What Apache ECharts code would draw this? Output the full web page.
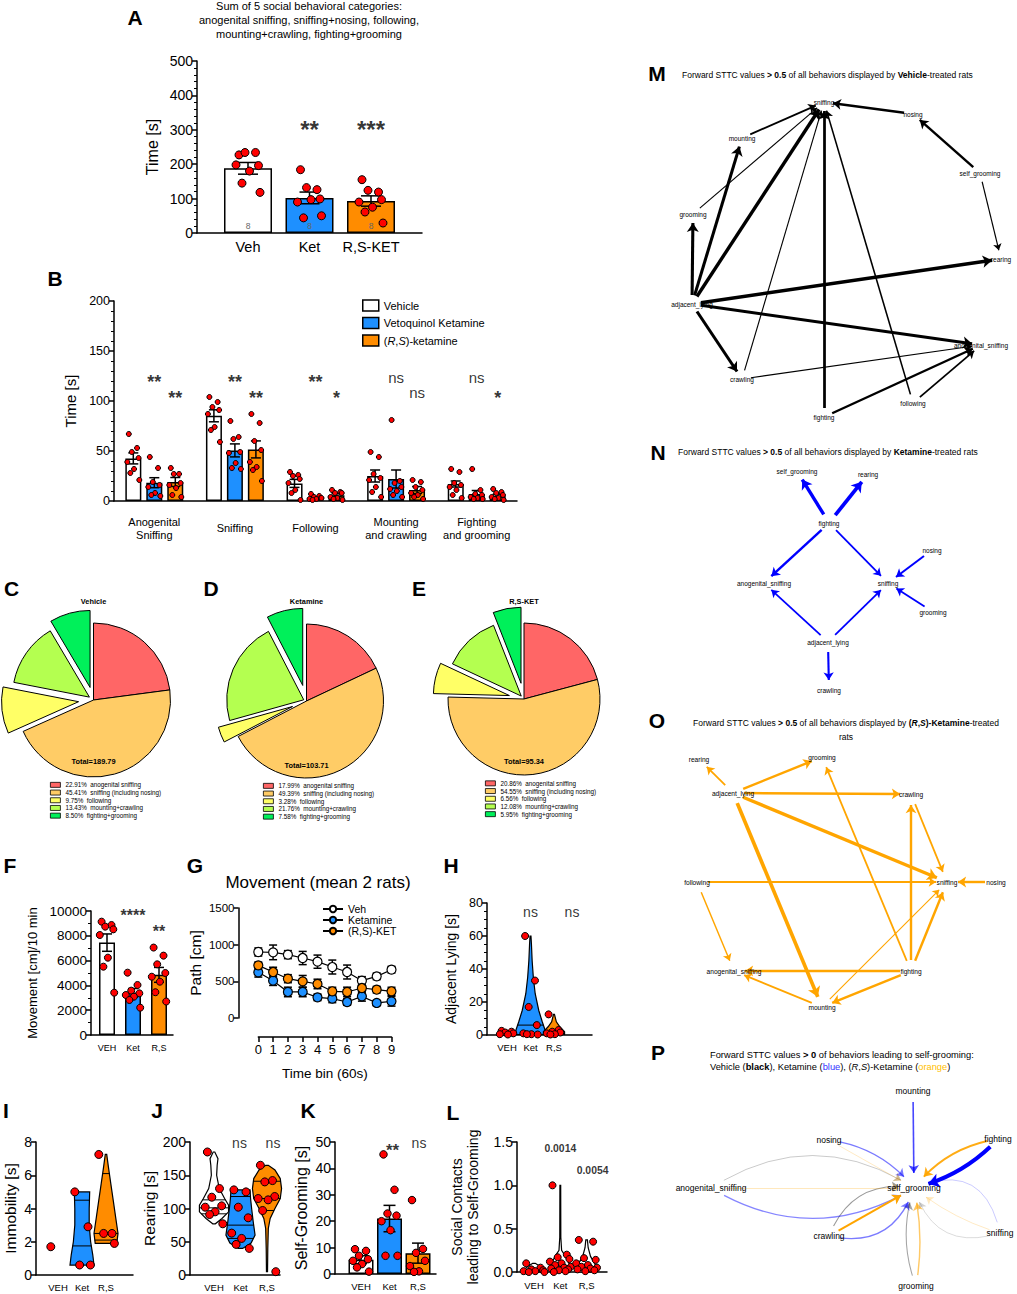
<!DOCTYPE html>
<html><head><meta charset="utf-8"><title>Figure</title>
<script src="https://cdn.jsdelivr.net/npm/echarts@6.0.0/dist/echarts.min.js"></script>
<style>html,body{margin:0;padding:0;background:#fff}#chart{width:1017px;height:1294px}</style>
</head><body><div id="chart"></div>
<script>
// ======================= DATA =======================
// A
const A_CATS = ['Veh','Ket','R,S-KET'];
const A_Y = [0, 500, 100];
const A_MEAN = [188, 102, 93];
const A_SEM = [17, 17, 15];
const A_PTS_VEH = [227,234,234,196,198,180,145,118];
const A_PTS_KET = [184,126,132,99,90,97,44,50];
const A_PTS_RS = [155,119,124,97,90,75,61,29];
const A_N = [8,8,8];
const A_SIG = ['','**','***'];
// B
const B_CATS = ['Anogenital\nSniffing','Sniffing','Following','Mounting\nand crawling','Fighting\nand grooming'];
const B_GROUPS = ['Vehicle','Vetoquinol Ketamine','(R,S)-ketamine'];
const B_Y = [0, 200, 50];
const B_MEAN_VEH = [42.6, 85.2, 17.6, 25, 17];
const B_MEAN_KET = [18.3, 50.6, 3.3, 22, 7];
const B_MEAN_RS = [19, 51.6, 5.7, 11, 5.3];
const B_SEM_VEH = [5.5, 6, 4, 6, 3];
const B_SEM_KET = [5, 6.5, 1, 9, 3.5];
const B_SEM_RS = [4.5, 8.5, 1.5, 3.5, 1.5];
const B_PTS_VEH = [[67,53,49,43,39,32,28,21],[104,99,94,91,87,74,71,59],[29,26,25,22,18,11,8,1],[49,44,27,23,21,14,9,4],[32,29,18,16,14,11,6,3]];
const B_PTS_KET = [[44,33,19,16,14,8,6,5],[80,64,62,49,48,38,33,32],[7,5,4,3,2,2,1,3],[81,20,18,14,12,10,6,4],[32,11,7,6,4,3,2,2]];
const B_PTS_RS = [[33,27,27,18,16,13,6,4],[87,78,60,51,39,34,31,20],[11,9,8,8,4,3,2,1],[21,19,14,11,8,6,4,2],[12,9,8,6,4,3,2,1]];
const B_SIG_KET = ['**','**','**','ns','ns'];
const B_SIG_RS = ['**','**','*','ns','*'];
// C, D, E
const PIE_CATS = ['anogenital sniffing','sniffing (including nosing)','following','mounting+crawling','fighting+grooming'];
const PIE_VEH = [22.91, 45.41, 9.75, 13.43, 8.50];
const PIE_KET = [17.99, 49.39, 3.28, 21.76, 7.58];
const PIE_RS = [20.86, 54.55, 6.56, 12.08, 5.95];
const PIE_TITLES = ['Vehicle','Ketamine','R,S-KET'];
const PIE_TOTALS = ['189.79','103.71','95.34'];
// F
const F_CATS = ['VEH','Ket','R,S'];
const F_Y = [0, 10000, 2000];
const F_MEAN = [7450, 3400, 4850];
const F_SEM = [700, 350, 600];
const F_PTS = [[9140,8870,8740,8520,8065,6236,5510,3414],[5027,4032,3575,3360,3226,3091,2822,2204],[7050,6400,5700,5000,4700,4300,3450,2700]];
const F_SIG = ['','****','**'];
// G
const G_BINS = [0,1,2,3,4,5,6,7,8,9];
const G_Y = [0, 1500, 500];
const G_VEH = [900,895,864,818,768,695,627,509,568,659];
const G_VEH_ERR = [55,100,55,90,90,95,95,55,45,45];
const G_KET = [623,509,355,355,282,264,218,295,205,227];
const G_KET_ERR = [65,65,65,65,45,55,45,65,35,65];
const G_RS = [718,627,536,500,464,364,355,409,386,364];
const G_RS_ERR = [45,65,55,80,65,55,65,65,45,55];
const G_NAMES = ['Veh','Ketamine','(R,S)-KET'];
// H
const H_CATS = ['VEH','Ket','R,S'];
const H_Y = [0, 80, 20];
const H_PTS = [[2.5,2,1.5,1,0.5,0.3],[60,33,17,6,1,0.5,0.5,0.3],[12.5,3,2,1.5,1,0.5,0.3]];
const H_DENS = [
  [[0.3,0.15],[1,0.3],[2,0.25],[2.5,0.08]],
  [[0.3,0.6],[3,0.62],[8,0.5],[15,0.35],[25,0.2],[35,0.12],[45,0.07],[55,0.04],[60,0.02]],
  [[0.3,0.45],[2,0.45],[5,0.25],[8,0.1],[12.5,0.02]]];
const H_QUART = [[1],[6],[1.2]];
const H_SIG = ['','ns','ns'];
// I
const I_CATS = ['VEH','Ket','R,S'];
const I_Y = [0, 8, 2];
const I_PTS = [[1.7],[5,2.9,0.6,0.6],[7.25,2.5,2.5,1.9]];
const I_DENS = [null,
  [[0.6,0.5],[1.2,0.45],[2,0.36],[3,0.3],[4,0.3],[5,0.32]],
  [[1.9,0.45],[2.5,0.5],[3.5,0.4],[4.5,0.3],[5.5,0.2],[6.5,0.1],[7.25,0.03]]];
const I_QUART = [[],[1.75,4.5],[2.1,2.5,6.1]];
// J
const J_CATS = ['VEH','Ket','R,S'];
const J_Y = [0, 200, 50];
const J_PTS = [[185,130,117,104,102,95,91,77],[128,125,102,86,63,55,46,40],[165,142,140,118,115,113,97,5]];
const J_DENS = [
  [[77,0.05],[85,0.3],[95,0.55],[105,0.55],[115,0.4],[130,0.2],[150,0.1],[165,0.12],[175,0.15],[185,0.03]],
  [[40,0.08],[48,0.4],[60,0.55],[80,0.48],[100,0.42],[115,0.38],[128,0.36]],
  [[5,0.02],[40,0.03],[70,0.05],[85,0.12],[100,0.3],[115,0.5],[130,0.55],[145,0.5],[158,0.3],[165,0.05]]];
const J_QUART = [[92,101,113],[55,75,118],[97,115,141]];
const J_SIG = ['','ns','ns'];
// K
const K_CATS = ['VEH','Ket','R,S'];
const K_Y = [0, 50, 10];
const K_MEAN = [5.4, 21, 7.9];
const K_SEM = [1.5, 5, 3.8];
const K_PTS = [[9.4,8.75,6.9,5.6,5,3.75,2.5,0.9],[45.3,31.9,22.9,22.1,20,16.6,6.9,6.9],[28,9.5,8,5,3,1,0.8]];
const K_SIG = ['','**','ns'];
// L
const L_CATS = ['VEH','Ket','R,S'];
const L_Y = [0, 1.5, 0.5];
const L_PTS = [[0.1,0.05,0.03,0.02,0.01,0.01,0,0],[1.0,0.2,0.17,0.15,0.12,0.1,0.08,0.06,0.05,0.04,0.03,0.02,0.01,0],[0.37,0.35,0.16,0.14,0.1,0.08,0.06,0.05,0.04,0.03,0.02,0.01]];
const L_DENS = [
  [[0,0.3],[0.03,0.35],[0.06,0.25],[0.1,0.05]],
  [[0,0.25],[0.05,0.35],[0.1,0.33],[0.18,0.2],[0.25,0.05],[0.4,0.02],[1.0,0.015]],
  [[0,0.25],[0.05,0.38],[0.1,0.3],[0.18,0.15],[0.28,0.06],[0.37,0.03]]];
const L_QUART = [[0.01],[0.07],[0.06]];
const L_PVAL = ['','0.0014','0.0054'];
// M, N, O, P  (edges: [from, to, STTC])
const M_NODES = ['sniffing','nosing','self_grooming','rearing','anogenital_sniffing','following','fighting','crawling','adjacent_lying','grooming','mounting'];
const M_EDGES = [
  ['nosing','sniffing',0.75],['mounting','sniffing',0.65],['grooming','sniffing',0.55],['adjacent_lying','sniffing',0.9],
  ['adjacent_lying','mounting',0.85],['adjacent_lying','grooming',0.85],['crawling','sniffing',0.55],['fighting','sniffing',0.8],
  ['following','sniffing',0.62],['self_grooming','nosing',0.75],['self_grooming','rearing',0.55],['adjacent_lying','rearing',0.9],
  ['adjacent_lying','anogenital_sniffing',0.85],['adjacent_lying','crawling',0.85],['crawling','anogenital_sniffing',0.55],
  ['fighting','anogenital_sniffing',0.75],['following','anogenital_sniffing',0.65]];
const N_NODES = ['self_grooming','rearing','fighting','nosing','anogenital_sniffing','sniffing','grooming','adjacent_lying','crawling'];
const N_EDGES = [
  ['fighting','self_grooming',0.9],['fighting','rearing',0.95],['fighting','anogenital_sniffing',0.75],['fighting','sniffing',0.65],
  ['nosing','sniffing',0.7],['grooming','sniffing',0.65],['adjacent_lying','anogenital_sniffing',0.65],['adjacent_lying','sniffing',0.65],
  ['adjacent_lying','crawling',0.7]];
const O_NODES = ['rearing','grooming','adjacent_lying','crawling','following','sniffing','nosing','anogenital_sniffing','fighting','mounting'];
const O_EDGES = [
  ['adjacent_lying','rearing',0.65],['adjacent_lying','grooming',0.75],['adjacent_lying','crawling',0.75],['adjacent_lying','sniffing',0.9],
  ['adjacent_lying','mounting',0.95],['fighting','grooming',0.65],['fighting','crawling',0.75],['crawling','sniffing',0.65],
  ['following','sniffing',0.65],['nosing','sniffing',0.75],['following','anogenital_sniffing',0.6],['fighting','anogenital_sniffing',0.75],
  ['fighting','sniffing',0.75],['fighting','mounting',0.75],['mounting','anogenital_sniffing',0.65],['mounting','sniffing',0.55]];
const P_NODES = ['self_grooming','mounting','nosing','fighting','anogenital_sniffing','crawling','sniffing','grooming'];
const P_EDGES = [ // [from, to, treatment, STTC]
  ['anogenital_sniffing','self_grooming','Vehicle',0.03],['crawling','self_grooming','Vehicle',0.07],
  ['grooming','self_grooming','Vehicle',0.06],['sniffing','self_grooming','Vehicle',0.015],
  ['mounting','self_grooming','Ketamine',0.15],['nosing','self_grooming','Ketamine',0.1],['fighting','self_grooming','Ketamine',0.55],
  ['anogenital_sniffing','self_grooming','Ketamine',0.09],['crawling','self_grooming','Ketamine',0.1],['sniffing','self_grooming','Ketamine',0.03],
  ['fighting','self_grooming','R,S-Ketamine',0.2],['nosing','self_grooming','R,S-Ketamine',0.035],['anogenital_sniffing','self_grooming','R,S-Ketamine',0.04],
  ['crawling','self_grooming','R,S-Ketamine',0.22],['sniffing','self_grooming','R,S-Ketamine',0.035],['grooming','self_grooming','R,S-Ketamine',0.12]];

// ======================= STYLE / LAYOUT =======================
const FONT = '"Liberation Sans", Arial, Helvetica, sans-serif';
const BLUE = '#1E90FF', ORANGE = '#FF8C00', WHITE = '#FFFFFF';
const GCOL = [WHITE, BLUE, ORANGE];
const PIE_COLORS = ['#FF6666','#FFCC66','#FFFF66','#B4FF50','#00F05A'];
const JIT = [-6,5,-2,7,-8,1,-4,8,3,-7,6,-1,4,-5];
const grids = [], xAxis = [], yAxis = [], series = [], legend = [], graphic = [];
const plain = v => String(v);

function addGrid(l,t,w,h){ grids.push({left:l, top:t, width:w, height:h}); return grids.length-1; }
function valueY(gi, y){
  return {gridIndex:gi, type:'value', min:y.min, max:y.max, interval:y.interval, offset:y.offset||0, silent:true,
    axisLine:{show:true, onZero:false, lineStyle:{color:'#000', width:1.5}},
    axisTick:{show:true, length:5, lineStyle:{color:'#000', width:1.5}},
    minorTick:{show:!!y.minor, splitNumber:y.minor||2, length:3, lineStyle:{color:'#000', width:1}},
    splitLine:{show:false}, minorSplitLine:{show:false},
    axisLabel:{color:'#000', fontSize:y.fs, margin:4, fontFamily:FONT, formatter:y.fmt||plain},
    name:y.name, nameLocation:'middle', nameGap:y.gap,
    nameTextStyle:{color:'#000', fontSize:y.nfs, fontFamily:FONT, lineHeight:y.nlh||y.nfs*1.2}};
}
function panel(o){
  const h = o.bottom - o.top;
  const gA = addGrid(o.axisX, o.top, o.xEnd - o.axisX, h);
  xAxis.push({gridIndex:gA, type:'value', min:0, max:1, silent:true,
    axisLine:{show:true, onZero:false, lineStyle:{color:'#000', width:1.5}},
    axisTick:{show:false}, axisLabel:{show:false}, splitLine:{show:false}});
  yAxis.push(valueY(gA, o.y));
  const n = o.cats.length;
  const gD = addGrid(o.c1 - o.u/2, o.top, o.u*n, h);
  xAxis.push({gridIndex:gD, type:'category', data:o.cats, silent:true,
    axisLine:{show:false}, axisTick:{show:false}, splitLine:{show:false},
    axisLabel:Object.assign({color:'#000', fontSize:o.xfs, margin:o.xmargin, interval:0, fontFamily:FONT}, o.xlabel||{})});
  yAxis.push({gridIndex:gD, type:'value', min:o.y.min, max:o.y.max, show:false, splitLine:{show:false}});
  return {x:xAxis.length-1, y:yAxis.length-1};
}
function bars(ax, means, colors, width, extra){
  return Object.assign({type:'bar', xAxisIndex:ax.x, yAxisIndex:ax.y, barWidth:width, silent:true, z:2,
    data: means.map((m,i)=>({value:m, itemStyle:{color:colors[i], borderColor:'#000', borderWidth:1.5}}))}, extra||{});
}
function errBars(ax, xs, means, sems, dx, cap){
  return {type:'custom', xAxisIndex:ax.x, yAxisIndex:ax.y, silent:true, z:4, encode:{x:0, y:1},
    data: means.map((m,i)=>[xs[i], m, sems[i]]),
    renderItem:(params, api)=>{
      const x0 = api.value(0), m = api.value(1), s = api.value(2);
      const t = api.coord([x0, m+s]), b = api.coord([x0, m-s]);
      const x = t[0] + dx, st = {stroke:'#000', lineWidth:1.5};
      return {type:'group', children:[
        {type:'line', shape:{x1:x, y1:t[1], x2:x, y2:b[1]}, style:st},
        {type:'line', shape:{x1:x-cap, y1:t[1], x2:x+cap, y2:t[1]}, style:st},
        {type:'line', shape:{x1:x-cap, y1:b[1], x2:x+cap, y2:b[1]}, style:st}]};
    }};
}
function dots(ax, groups, dx, spread, size){
  const data = [];
  groups.forEach((pts,i)=>pts.forEach((v,k)=>data.push({value:[i,v], symbolOffset:[dx + JIT[k%JIT.length]*spread, 0]})));
  return {type:'scatter', xAxisIndex:ax.x, yAxisIndex:ax.y, symbol:'circle', symbolSize:size, silent:true, z:5,
    itemStyle:{color:'#FF0000', borderColor:'#000', borderWidth:1, opacity:1}, data};
}
// star labels bold (size sfs), other labels normal (size nfs)
function sig(ax, labels, ys, sfs, nfs, dxs, boldAll){
  const data = [];
  labels.forEach((t,i)=>{ if(!t) return;
    const star = t.indexOf('*') >= 0;
    data.push({value:[i, Array.isArray(ys)?ys[i]:ys], name:t,
      label:{offset:[dxs?dxs[i]:0, star?sfs*0.3:0], fontSize:star?sfs:nfs, fontWeight:(star||boldAll)?'bold':'normal'}}); });
  return {type:'scatter', xAxisIndex:ax.x, yAxisIndex:ax.y, symbolSize:1, silent:true, z:6,
    itemStyle:{color:'rgba(0,0,0,0)'}, data,
    label:{show:true, position:'inside', formatter:p=>p.name, color:'#000', fontFamily:FONT}};
}
function interp(prof, q){
  for(let k=0;k<prof.length-1;k++){
    const a=prof[k], b=prof[k+1];
    if(q>=a[0] && q<=b[0]) return a[1] + (b[1]-a[1])*(q-a[0])/((b[0]-a[0])||1);
  }
  return null;
}
function violins(ax, dens, quarts, colors){
  return {type:'custom', xAxisIndex:ax.x, yAxisIndex:ax.y, silent:true, z:2, encode:{x:0, y:1},
    data: dens.map((d,i)=>[i, d ? d[0][0] : 0]),
    renderItem:(params, api)=>{
      const i = params.dataIndex, prof = dens[i];
      if(!prof) return {type:'group', children:[]};
      const band = api.size([1,0])[0];
      const L = [], R = [];
      prof.forEach(([v,w])=>{ const c = api.coord([i,v]); L.push([c[0]-w*band, c[1]]); R.unshift([c[0]+w*band, c[1]]); });
      const children = [{type:'polygon', shape:{points:L.concat(R)}, style:{fill:colors[i], stroke:'#000', lineWidth:1.2}}];
      (quarts[i]||[]).forEach(q=>{ const w = interp(prof,q); if(w==null) return; const c = api.coord([i,q]);
        children.push({type:'line', shape:{x1:c[0]-w*band, y1:c[1], x2:c[0]+w*band, y2:c[1]}, style:{stroke:'#000', lineWidth:1}}); });
      return {type:'group', children};
    }};
}
function text(x, y, t, fs, o){
  o = o || {};
  graphic.push({type:'text', x, y, silent:true, z:50, style:Object.assign({text:t, fill:'#000', fontSize:fs, fontFamily:FONT,
    fontWeight:o.bold?'bold':'normal', align:o.align||'center', verticalAlign:'middle', lineHeight:o.lh}, o.style||{})});
}
function rs(fs, w, st, c){ return {fontSize:fs, fontFamily:FONT, fontWeight:w||'normal', fontStyle:st||'normal', fill:c||'#000', color:c||'#000'}; }

// ---------------- Panel A ----------------
text(135, 17, 'A', 21, {bold:true});
text(309, 20, 'Sum of 5 social behavioral categories:\nanogenital sniffing, sniffing+nosing, following,\nmounting+crawling, fighting+grooming', 11, {lh:13.7});
const pA = panel({axisX:197, top:61, bottom:233, xEnd:422, c1:248, u:61.5, cats:A_CATS, xfs:14.5, xmargin:6,
  y:{min:A_Y[0], max:A_Y[1], interval:A_Y[2], minor:5, fs:14, name:'Time [s]', gap:35, nfs:16}});
series.push(bars(pA, A_MEAN, GCOL, 48, {label:{show:true, position:'insideBottom', distance:3, fontSize:8.5, color:'#666',
  fontFamily:FONT, formatter:p=>String(A_N[p.dataIndex])}}));
series.push(errBars(pA, [0,1,2], A_MEAN, A_SEM, 0, 10));
series.push(dots(pA, [A_PTS_VEH, A_PTS_KET, A_PTS_RS], 0, 1.5, 8));
series.push(sig(pA, A_SIG, 323, 24, 14));

// ---------------- Panel B ----------------
text(55, 278, 'B', 21, {bold:true});
const pB = panel({axisX:114, top:301, bottom:501, xEnd:517, c1:154.3, u:80.6, cats:B_CATS, xfs:11, xmargin:27,
  xlabel:{verticalAlign:'middle', lineHeight:13, align:'center'},
  y:{min:B_Y[0], max:B_Y[1], interval:B_Y[2], minor:5, fs:12.5, name:'Time [s]', gap:34.5, nfs:15}});
[B_MEAN_VEH, B_MEAN_KET, B_MEAN_RS].forEach((means,s)=>{
  series.push({type:'bar', name:B_GROUPS[s], xAxisIndex:pB.x, yAxisIndex:pB.y, barWidth:16, barGap:'31%', silent:true, z:2,
    itemStyle:{color:GCOL[s], borderColor:'#000', borderWidth:1.5}, data:means});
});
[[B_MEAN_VEH,B_SEM_VEH],[B_MEAN_KET,B_SEM_KET],[B_MEAN_RS,B_SEM_RS]].forEach((p,s)=>series.push(errBars(pB,[0,1,2,3,4],p[0],p[1],(s-1)*21,5)));
[B_PTS_VEH, B_PTS_KET, B_PTS_RS].forEach((g,s)=>series.push(dots(pB, g, (s-1)*21, 0.75, 5)));
series.push(sig(pB, B_SIG_KET, 124, 18, 15, B_SIG_KET.map(()=>0)));
series.push(sig(pB, B_SIG_RS, 108.5, 18, 15, B_SIG_RS.map(()=>21)));
legend.push({orient:'vertical', left:362, top:299, padding:0, itemWidth:16, itemHeight:11, itemGap:4.5, icon:'rect', selectedMode:false,
  itemStyle:{borderColor:'#000', borderWidth:1.5}, data:B_GROUPS,
  textStyle:{fontSize:11, lineHeight:13, color:'#000', fontFamily:FONT, rich:{i:{fontStyle:'italic', fontSize:11, fontFamily:FONT, color:'#000'}}},
  formatter:n=> n==='(R,S)-ketamine' ? '({i|R},{i|S})-ketamine' : n});

// ---------------- Panels C, D, E ----------------
function pieNames(vals){ return vals.map((v,i)=>v.toFixed(2)+'%  '+PIE_CATS[i]); }
function pie(center, r, vals, offsets){
  const names = pieNames(vals);
  [...new Set(offsets)].forEach(off=>{
    series.push({type:'pie', center, radius:r, startAngle:90, clockwise:true, silent:true,
      selectedMode: off>0 ? 'multiple' : false, selectedOffset: off, label:{show:false}, labelLine:{show:false},
      emphasis:{disabled:true},
      data: vals.map((v,i)=>({name:names[i], value:v, selected: off>0 && offsets[i]===off,
        itemStyle: offsets[i]===off ? {color:PIE_COLORS[i], borderColor:'#000', borderWidth:1} : {color:'rgba(0,0,0,0)', borderWidth:0}}))});
  });
  return names;
}
function pieLegend(names, left, top){
  legend.push({orient:'vertical', left, top, padding:0, itemWidth:10, itemHeight:5, itemGap:0, icon:'rect', selectedMode:false,
    textStyle:{fontSize:6.3, lineHeight:7.7, color:'#000', fontFamily:FONT},
    data:names.map((n,i)=>({name:n, itemStyle:{color:PIE_COLORS[i], borderColor:'#000', borderWidth:0.8}}))});
}
text(11.5, 588, 'C', 21, {bold:true});
text(211, 588, 'D', 21, {bold:true});
text(419, 588, 'E', 21, {bold:true});
[[93.5,700,77,PIE_VEH,[0,0,15,5,13],50,781,761],[306.5,701,77,PIE_KET,[0,0,15,3,16],263,782,765],[524,699,76,PIE_RS,[0,0,15,4,16],485,779.5,761]]
  .forEach((p,k)=>{
    const names = pie([p[0],p[1]], p[2], p[3], p[4]);
    pieLegend(names, p[5], p[6]);
    text(p[0], 601, PIE_TITLES[k], 7.4, {bold:true});
    text(p[0], p[7], 'Total='+PIE_TOTALS[k], 7.4, {bold:true});
  });

// ---------------- Panel F ----------------
text(10, 865, 'F', 21, {bold:true});
const pF = panel({axisX:91, top:911, bottom:1035, xEnd:173, c1:107, u:26, cats:F_CATS, xfs:9, xmargin:8,
  y:{min:F_Y[0], max:F_Y[1], interval:F_Y[2], minor:2, fs:13.5, name:'Movement [cm]/10 min', gap:50.5, nfs:13}});
series.push(bars(pF, F_MEAN, GCOL, 16));
series.push(errBars(pF, [0,1,2], F_MEAN, F_SEM, 0, 5));
series.push(dots(pF, F_PTS, 0, 0.9, 7));
series.push(sig(pF, F_SIG, [0, 10000, 8700], 16, 14));

// ---------------- Panel G ----------------
text(195, 865, 'G', 21, {bold:true});
text(318, 882, 'Movement (mean 2 rats)', 17);
const gG = addGrid(258.3, 908, 133.2, 110);
xAxis.push({gridIndex:gG, type:'value', min:0, max:9, interval:1, offset:19, silent:true,
  axisLine:{show:true, onZero:false, lineStyle:{color:'#000', width:1.5}}, axisTick:{show:true, length:5, lineStyle:{color:'#000', width:1.5}},
  axisLabel:{color:'#000', fontSize:13, margin:6, fontFamily:FONT}, splitLine:{show:false},
  name:'Time bin (60s)', nameLocation:'middle', nameGap:29, nameTextStyle:{color:'#000', fontSize:13.5, fontFamily:FONT}});
yAxis.push(valueY(gG, {min:G_Y[0], max:G_Y[1], interval:G_Y[2], fs:11.5, name:'Path [cm]', gap:32, nfs:15.5, offset:19.8}));
const pG = {x:xAxis.length-1, y:yAxis.length-1};
[[G_VEH,G_VEH_ERR,WHITE],[G_KET,G_KET_ERR,BLUE],[G_RS,G_RS_ERR,ORANGE]].forEach((s,k)=>{
  series.push(errBars(pG, G_BINS, s[0], s[1], 0, 4));
  series.push({type:'line', name:G_NAMES[k], xAxisIndex:pG.x, yAxisIndex:pG.y, silent:true, z:5, symbol:'circle', symbolSize:9,
    itemStyle:{color:s[2], borderColor:'#000', borderWidth:1.2}, lineStyle:{color:'#000', width:1.2},
    data:G_BINS.map((b,i)=>[b, s[0][i]])});
});
legend.push({orient:'vertical', left:322, top:903.5, padding:0, itemWidth:20, itemHeight:8, itemGap:0, selectedMode:false, data:G_NAMES,
  textStyle:{fontSize:10.5, lineHeight:11, color:'#000', fontFamily:FONT}});

// ---------------- Panel H ----------------
text(451, 865, 'H', 21, {bold:true});
const pH = panel({axisX:487, top:903, bottom:1035, xEnd:592, c1:507, u:23.5, cats:H_CATS, xfs:9.5, xmargin:7,
  y:{min:H_Y[0], max:H_Y[1], interval:H_Y[2], minor:4, fs:12.5, name:'Adjacent Lying [s]', gap:28, nfs:14}});
series.push(violins(pH, H_DENS, H_QUART, GCOL));
series.push(dots(pH, H_PTS, 0, 0.9, 7));
series.push(sig(pH, H_SIG, 74.5, 16, 14, [0,0,18]));

// ---------------- Panel I ----------------
text(6, 1110, 'I', 21, {bold:true});
const pI = panel({axisX:36, top:1142, bottom:1275, xEnd:133, c1:58, u:24, cats:I_CATS, xfs:9.5, xmargin:7,
  y:{min:I_Y[0], max:I_Y[1], interval:I_Y[2], fs:14, name:'Immobility [s]', gap:16, nfs:15.5}});
series.push(violins(pI, I_DENS, I_QUART, GCOL));
series.push(dots(pI, I_PTS, 0, 1.2, 8));

// ---------------- Panel J ----------------
text(157, 1110, 'J', 21, {bold:true});
const pJ = panel({axisX:190, top:1142, bottom:1275, xEnd:280, c1:214, u:26.5, cats:J_CATS, xfs:9.5, xmargin:7,
  y:{min:J_Y[0], max:J_Y[1], interval:J_Y[2], fs:14, name:'Rearing [s]', gap:29.5, nfs:15.5}});
series.push(violins(pJ, J_DENS, J_QUART, GCOL));
series.push(dots(pJ, J_PTS, 0, 1.1, 8));
series.push(sig(pJ, J_SIG, 198.5, 16, 14, [0,-1,6]));

// ---------------- Panel K ----------------
text(308, 1110, 'K', 21, {bold:true});
const pK = panel({axisX:335, top:1142, bottom:1274, xEnd:436, c1:361, u:28.5, cats:K_CATS, xfs:9.5, xmargin:7,
  y:{min:K_Y[0], max:K_Y[1], interval:K_Y[2], fs:14, name:'Self-Grooming [s]', gap:22, nfs:16}});
series.push(bars(pK, K_MEAN, GCOL, 25));
series.push(errBars(pK, [0,1,2], K_MEAN, K_SEM, 0, 6));
series.push(dots(pK, K_PTS, 0, 1.0, 7.5));
series.push(sig(pK, K_SIG, [0, 48.9, 49.6], 17, 14, [0,3,1]));

// ---------------- Panel L ----------------
text(453, 1112, 'L', 21, {bold:true});
const pL = panel({axisX:517, top:1142, bottom:1272, xEnd:607, c1:534, u:26.3, cats:L_CATS, xfs:9.5, xmargin:8,
  y:{min:L_Y[0], max:L_Y[1], interval:L_Y[2], fs:14, fmt:v=>v.toFixed(1), name:'Social Contacts\nleading to Self-Grooming', gap:36, nfs:14, nlh:16}});
series.push(violins(pL, L_DENS, L_QUART, [WHITE, WHITE, WHITE]));
series.push(dots(pL, L_PTS, 0, 1.3, 7));
series.push(sig(pL, L_PVAL, [0, 1.43, 1.175], 10.4, 10.4, [0, 0, 6], true));

// ---------------- Graphs M, N, O, P ----------------
const M_POS = {sniffing:[824,102], nosing:[913,114], self_grooming:[980,173], rearing:[1001,259], anogenital_sniffing:[981,345],
  following:[913,403], fighting:[824,417], crawling:[742,379], adjacent_lying:[692,304], grooming:[693,214], mounting:[742,138]};
const N_POS = {self_grooming:[797,471], rearing:[868,474], fighting:[829,523], nosing:[932,550], anogenital_sniffing:[764,583],
  sniffing:[888,583], grooming:[933,612], adjacent_lying:[828,642], crawling:[829,690]};
const O_POS = {rearing:[699,759], grooming:[822,757], adjacent_lying:[733,793], crawling:[911,794], following:[697,882],
  sniffing:[947,882], nosing:[996,882], anogenital_sniffing:[734,971], fighting:[911,971], mounting:[822,1007]};
const P_POS = {self_grooming:[914,1188], mounting:[913,1091], nosing:[829,1140], fighting:[998,1139], anogenital_sniffing:[711,1188],
  crawling:[829,1236], sniffing:[1000,1233], grooming:[916,1286]};
const P_COLOR = {'Vehicle':'#000000', 'Ketamine':'#0000FF', 'R,S-Ketamine':'#FFA500'};
const P_CURVE = {'Vehicle|anogenital_sniffing':0.32, 'Ketamine|anogenital_sniffing':-0.3, 'Vehicle|crawling':0.4, 'Ketamine|crawling':-0.45,
  'Vehicle|grooming':0.18, 'R,S-Ketamine|grooming':-0.1, 'Ketamine|nosing':0.2, 'Ketamine|fighting':0.15, 'R,S-Ketamine|fighting':-0.2,
  'Ketamine|sniffing':-0.6, 'Vehicle|sniffing':0.5, 'R,S-Ketamine|sniffing':0.1};

function graph(nodes, pos, links, fs, nodeSize){
  const xs = nodes.map(n=>pos[n][0]), ys = nodes.map(n=>pos[n][1]);
  const x0 = Math.min(...xs), x1 = Math.max(...xs), y0 = Math.min(...ys), y1 = Math.max(...ys);
  series.push({type:'graph', layout:'none', roam:false, silent:true, left:x0, top:y0, width:x1-x0, height:y1-y0,
    symbol:'circle', itemStyle:{color:'rgba(0,0,0,0)', borderWidth:0},
    label:{show:true, position:'inside', color:'#000', fontSize:fs, fontFamily:FONT},
    edgeSymbol:['circle','arrow'], emphasis:{disabled:true},
    data: nodes.map(n=>({name:n, x:pos[n][0], y:pos[n][1], symbolSize:(typeof nodeSize==='function')?nodeSize(n):nodeSize})),
    links});
}
function simpleLinks(edges, color){
  return edges.map(e=>{ const w = 0.8 + (e[2]-0.5)*6.5;
    return {source:e[0], target:e[1], value:e[2], symbolSize:[0.1, 5 + w*1.3], lineStyle:{color, width:w, opacity:1, curveness:0}}; });
}
text(657, 73, 'M', 21, {bold:true});
graphic.push({type:'text', x:682, y:75, silent:true, style:{text:'{n|Forward STTC values }{b|> 0.5}{n| of all behaviors displayed by }{b|Vehicle}{n|-treated rats}',
  align:'left', verticalAlign:'middle', rich:{n:rs(8.5), b:rs(8.5,'bold')}}});
graph(M_NODES, M_POS, simpleLinks(M_EDGES, '#000'), 6.5, 18);
text(658, 452, 'N', 21, {bold:true});
graphic.push({type:'text', x:678, y:452, silent:true, style:{text:'{n|Forward STTC values }{b|> 0.5}{n| of all behaviors displayed by }{b|Ketamine}{n|-treated rats}',
  align:'left', verticalAlign:'middle', rich:{n:rs(8.5), b:rs(8.5,'bold')}}});
graph(N_NODES, N_POS, simpleLinks(N_EDGES, '#0000FF'), 6.5, 20);
text(657, 720, 'O', 21, {bold:true});
graphic.push({type:'text', x:846, y:730, silent:true, style:{text:'{n|Forward STTC values }{b|> 0.5}{n| of all behaviors displayed by }{b|(}{bi|R}{b|,}{bi|S}{b|)-Ketamine}{n|-treated}\n{n|rats}',
  align:'center', verticalAlign:'middle', rich:{n:Object.assign(rs(8.5),{lineHeight:14}), b:Object.assign(rs(8.5,'bold'),{lineHeight:14}), bi:Object.assign(rs(8.5,'bold','italic'),{lineHeight:14})}}});
graph(O_NODES, O_POS, simpleLinks(O_EDGES, '#FFA500'), 6.6, 22);
text(658, 1052, 'P', 21, {bold:true});
graphic.push({type:'text', x:710, y:1061, silent:true, style:{text:'{n|Forward STTC values }{b|> 0}{n| of behaviors leading to self-grooming:}\n{n|Vehicle (}{b|black}{n|), Ketamine (}{bl|blue}{n|), (}{i|R}{n|,}{i|S}{n|)-Ketamine (}{or|orange}{n|)}',
  align:'left', verticalAlign:'middle', rich:{n:Object.assign(rs(9.3),{lineHeight:12.5}), b:Object.assign(rs(9.3,'bold'),{lineHeight:12.5}),
  i:Object.assign(rs(9.3,'normal','italic'),{lineHeight:12.5}), bl:Object.assign(rs(9.3,'normal','normal','#3333FF'),{lineHeight:12.5}),
  or:Object.assign(rs(9.3,'normal','normal','#FFC000'),{lineHeight:12.5})}}});
graph(P_NODES, P_POS, P_EDGES.map(e=>{
  const w = 0.7 + e[3]*6, op = Math.min(1, 0.12 + e[3]*4);
  return {source:e[0], target:e[1], value:e[3], symbolSize:[0.1, 6 + w*1.2],
    lineStyle:{color:P_COLOR[e[2]], width:w, opacity:op, curveness:P_CURVE[e[2]+'|'+e[0]]||0}};
}), 8.5, n=> n==='self_grooming' ? 30 : (n==='anogenital_sniffing' ? 30 : 22));

// ======================= RENDER =======================
const chart = echarts.init(document.getElementById('chart'), null, {renderer:'svg', width:1017, height:1294});
chart.setOption({animation:false, backgroundColor:'#fff', textStyle:{fontFamily:FONT},
  grid:grids, xAxis, yAxis, series, legend, graphic});
</script></body></html>
